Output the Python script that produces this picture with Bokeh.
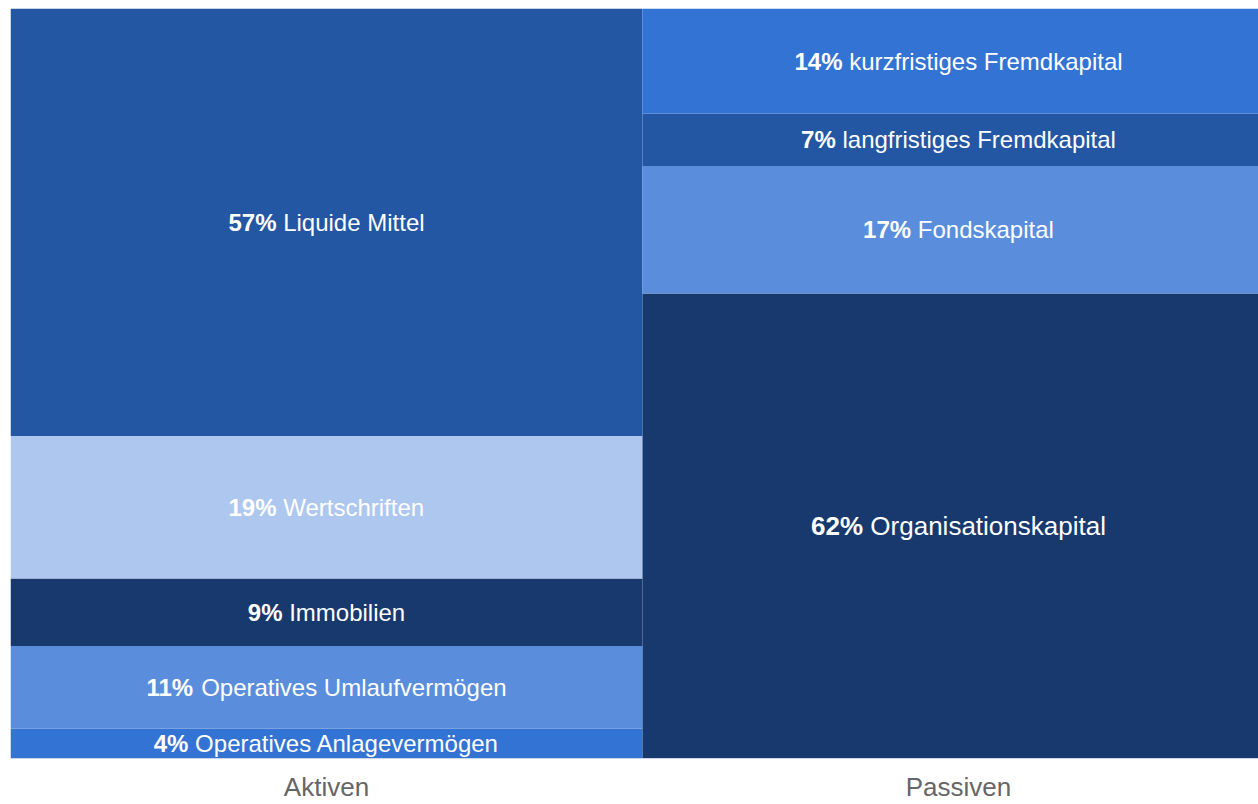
from bokeh.plotting import figure
from bokeh.models import ColumnDataSource, Range1d, FixedTicker
from bokeh.core.properties import value
from bokeh.embed import file_html
from bokeh.resources import INLINE
import numpy as np

# ---- data ----
columns = ["Aktiven", "Passiven"]
aktiven_labels = ["Operatives Anlagevermögen", "Operatives Umlaufvermögen", "Immobilien", "Wertschriften", "Liquide Mittel"]
aktiven_values = [4, 11, 9, 19, 57]
aktiven_colors = ["#3273D3", "#5A8EDC", "#17396D", "#ADC7EF", "#2356A3"]
passiven_labels = ["Organisationskapital", "Fondskapital", "langfristiges Fremdkapital", "kurzfristiges Fremdkapital"]
passiven_values = [62, 17, 7, 14]
passiven_colors = ["#17396D", "#5A8EDC", "#2356A3", "#3273D3"]
passiven_font = [26, 24, 24, 24]
aktiven_font = [24, 24, 24, 24, 24]

# Arial / Liberation Sans advance widths (per 1000 em)
W = {' ': 278, '%': 889, 'A': 667, 'F': 611, 'I': 278, 'L': 556, 'M': 833, 'O': 778, 'U': 722, 'W': 944,
     'a': 556, 'b': 556, 'c': 500, 'd': 556, 'e': 556, 'f': 278, 'g': 556, 'h': 556, 'i': 222, 'j': 222,
     'k': 500, 'l': 222, 'm': 833, 'n': 556, 'o': 556, 'p': 556, 'q': 556, 'r': 333, 's': 500, 't': 278,
     'u': 556, 'v': 500, 'w': 722, 'x': 500, 'y': 500, 'z': 500, 'ö': 556, 'ü': 556}


def width(s, size):
    return sum(W.get(c, 556) for c in s) * size / 1000.0


xs, bottoms, tops, colors, bold_t, norm_t, ys, sizes, off_b, off_n = ([] for _ in range(10))
for ci, (labels, vals, cols, fonts) in enumerate([(aktiven_labels, aktiven_values, aktiven_colors, aktiven_font),
                                                   (passiven_labels, passiven_values, passiven_colors, passiven_font)]):
    cum = np.concatenate([[0], np.cumsum(vals)])
    for i, (lab, v, c, fs) in enumerate(zip(labels, vals, cols, fonts)):
        xs.append(ci + 0.5)
        bottoms.append(cum[i])
        tops.append(cum[i + 1])
        colors.append(c)
        b = f"{v}%"
        wb = width(b, fs)
        ws = width(" ", fs)
        wt = wb + ws + width(lab, fs)
        bold_t.append(b)
        norm_t.append(lab)
        ys.append((cum[i] + cum[i + 1]) / 2)
        sizes.append(f"{fs}px")
        off_b.append(-wt / 2)
        off_n.append(-wt / 2 + wb + ws)

src = ColumnDataSource(dict(x=xs, bottom=bottoms, top=tops, color=colors, bold=bold_t, norm=norm_t,
                            y=ys, size=sizes, ob=off_b, on=off_n))

p = figure(width=1258, height=804, output_backend="svg", toolbar_location=None,
           x_range=Range1d(0, 1248 / 632), y_range=Range1d(0, 100),
           y_axis_location=None, min_border_left=10, min_border_right=0, min_border_top=8,
           min_border_bottom=0)
p.outline_line_color = None
p.grid.visible = False
p.background_fill_color = "white"

p.vbar(x="x", width=1, bottom="bottom", top="top", fill_color="color", line_color=None, source=src)
p.text(x="x", y="y", text="bold", x_offset="ob", text_align="left", text_baseline="middle",
       text_font=value("Liberation Sans"), text_font_style="bold", text_font_size="size",
       text_color="white", source=src)
p.text(x="x", y="y", text="norm", x_offset="on", text_align="left", text_baseline="middle",
       text_font=value("Liberation Sans"), text_font_size="size", text_color="white", source=src)

ax = p.xaxis[0]
ax.ticker = FixedTicker(ticks=[0.5, 1.5])
ax.major_label_overrides = {0.5: columns[0], 1.5: columns[1]}
ax.major_tick_line_color = None
ax.minor_tick_line_color = None
ax.major_tick_out = 0
ax.major_tick_in = 0
ax.axis_line_color = "#ccd6eb"
ax.axis_line_width = 1
ax.major_label_text_font = "Liberation Sans"
ax.major_label_text_font_size = "26px"
ax.major_label_text_color = "#666666"
ax.major_label_standoff = 13

open("out.html", "w").write(file_html(p, INLINE))
